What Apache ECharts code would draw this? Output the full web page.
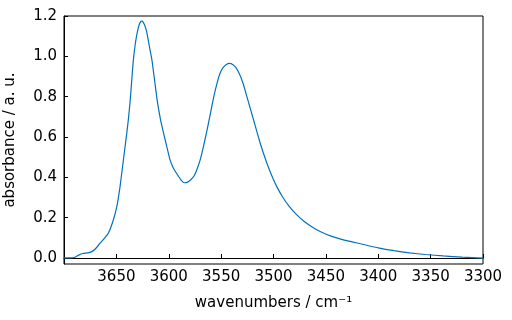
<!DOCTYPE html>
<html>
<head>
<meta charset="utf-8">
<script src="https://cdn.jsdelivr.net/npm/echarts@6/dist/echarts.min.js"></script>
<style>
  html, body { margin: 0; padding: 0; background: #fff; }
  #main { width: 512px; height: 320px; }
</style>
</head>
<body>
<div id="main"></div>
<script>
// spectrum
var wavenumbers = [3700, 3695, 3690, 3686, 3682, 3677, 3674, 3670.4, 3665.6, 3661.5,
  3657.7, 3652.9, 3649.6, 3646.5, 3643.3, 3640.1, 3638.5, 3637, 3635.5, 3634,
  3632, 3630, 3628, 3626.5, 3625.5, 3624.5, 3623, 3621, 3618.5, 3616,
  3613.5, 3611, 3608, 3605, 3602, 3599, 3596, 3592, 3588, 3585,
  3582, 3579, 3576, 3573, 3570, 3567, 3564, 3560.5, 3557, 3554,
  3551, 3548, 3545, 3542, 3539, 3536, 3532.5, 3529, 3525.4, 3519,
  3512.7, 3506.3, 3501, 3497, 3491, 3485, 3478, 3470, 3462, 3455,
  3445, 3435, 3425, 3415, 3400, 3385, 3370, 3355, 3338, 3320, 3300];
var absorbance = [0.000, 0.000, 0.002, 0.014, 0.022, 0.025, 0.030, 0.043, 0.073, 0.097,
  0.122, 0.188, 0.254, 0.354, 0.486, 0.618, 0.690, 0.770, 0.870, 0.970,
  1.060, 1.120, 1.160, 1.174, 1.175, 1.170, 1.155, 1.120, 1.050, 0.980,
  0.880, 0.780, 0.690, 0.620, 0.555, 0.490, 0.450, 0.415, 0.385, 0.373,
  0.376, 0.388, 0.405, 0.440, 0.486, 0.550, 0.620, 0.710, 0.800, 0.865,
  0.916, 0.945, 0.960, 0.965, 0.960, 0.945, 0.912, 0.865, 0.800, 0.684,
  0.569, 0.470, 0.400, 0.355, 0.300, 0.256, 0.215, 0.178, 0.150, 0.130,
  0.108, 0.092, 0.080, 0.068, 0.050, 0.036, 0.025, 0.017, 0.010, 0.004, -0.001];
var xTicks = [3650, 3600, 3550, 3500, 3450, 3400, 3350, 3300];
var yTicks = [0.0, 0.2, 0.4, 0.6, 0.8, 1.0, 1.2];

var points = [];
for (var i = 0; i < wavenumbers.length; i++) {
  points.push([wavenumbers[i], absorbance[i]]);
}

var myChart = echarts.init(document.getElementById('main'));
var font = 'DejaVu Sans';
var option = {
  animation: false,
  grid: {
    left: 64, right: 29, top: 16, bottom: 56,
    outerBoundsMode: 'none',
    containLabel: false,
    show: true, borderColor: '#000', borderWidth: 1
  },
  xAxis: {
    type: 'value',
    min: 3300, max: 3700,
    inverse: true,
    name: 'wavenumbers / cm⁻¹',
    nameLocation: 'middle',
    nameGap: 32,
    nameTextStyle: { fontFamily: font, fontSize: 15, color: '#000' },
    axisLine: { lineStyle: { color: '#000', width: 1 } },
    axisTick: { inside: true, length: 4, customValues: xTicks, lineStyle: { color: '#000' } },
    axisLabel: {
      customValues: xTicks, margin: 6, fontFamily: font, fontSize: 15, color: '#000',
      formatter: function (v) { return String(v); }
    },
    splitLine: { show: false }
  },
  yAxis: {
    type: 'value',
    min: -0.03, max: 1.2,
    name: 'absorbance / a. u.',
    nameLocation: 'middle',
    nameGap: 46,
    nameTextStyle: { fontFamily: font, fontSize: 15, color: '#000' },
    axisLine: { show: true, lineStyle: { color: '#000', width: 1 } },
    axisTick: { show: true, inside: true, length: 4, customValues: yTicks, lineStyle: { color: '#000' } },
    axisLabel: {
      customValues: yTicks, margin: 7, fontFamily: font, fontSize: 15, color: '#000',
      formatter: function (v) { return v.toFixed(1); }
    },
    splitLine: { show: false }
  },
  series: [{
    type: 'line',
    data: points,
    showSymbol: false,
    smooth: 0.15,
    clip: true,
    lineStyle: { color: '#0072bd', width: 1.2 }
  }]
};
myChart.setOption(option);
</script>
</body>
</html>
